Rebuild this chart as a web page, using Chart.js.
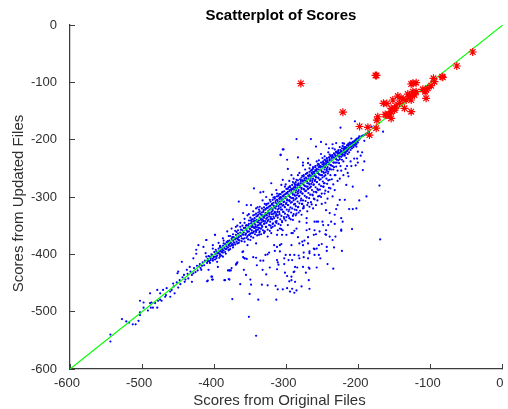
<!DOCTYPE html>
<html lang="en">
<head>
<meta charset="UTF-8">
<title>Scatterplot of Scores</title>
<style>
  html, body { margin: 0; padding: 0; background: #fff; }
  canvas { display: block; }
</style>
</head>
<body>
<canvas id="scoresChart" width="508" height="409"></canvas>
<script src="https://cdn.jsdelivr.net/npm/chart.js"></script>
<script>
const tickValues = [-600, -500, -400, -300, -200, -100, 0];
const titleText = 'Scatterplot of Scores';
const xLabel = 'Scores from Original Files';
const yLabel = 'Scores from Updated Files';

// y = x reference line
const refLine = [[-600, -600], [0, 0]];

// red stars
const redStars = [
  [-280,-102],[-176.5,-88],[-175,-88],[-221.7,-152],[-198.6,-177],[-187,-178.5],[-184.8,-192],[-175.5,-180],
  [-174.6,-166],[-173.3,-160],[-165.4,-136.6],[-160.8,-137],[-157,-157],[-154.8,-163],[-163,-156],[-150,-145],
  [-147.8,-141.3],[-152.4,-130.8],[-145.5,-123.9],[-138.6,-129.7],[-131.7,-120.4],[-136.3,-145.4],[-127,-151.2],
  [-127,-130.8],[-124.7,-120.4],[-120.1,-116.3],[-127,-102.9],[-120.1,-100.6],[-124.7,-101.8],[-110.9,-112.2],
  [-107.7,-116.3],[-106.3,-127.9],[-99.4,-105.8],[-96.1,-93],[-94.8,-98.9],[-84.1,-90.1],[-83.2,-91.3],
  [-63.8,-71.5],[-41.7,-47.1],[-143.2,-136.6],[-134,-130.8],[-129.4,-125],[-122.4,-122],[-106.3,-113.4],
  [-154.7,-151.2],[-161.6,-157],[-150,-148.3],[-154.7,-145.4],[-140.9,-127.9],[-124.7,-116.3],[-104,-110.5]
];

// blue dots: the far tail at lower left
const lowerTail = [
  [-544,-540],[-544,-552],[-528,-513],[-522,-517],[-518,-519],[-513,-522],[-509,-522],[-505,-516],[-503,-501],
  [-503,-506],[-503,-481],[-498,-484],[-498,-493],[-492,-498],[-489,-468],[-489,-485],[-488,-493],[-485,-493],
  [-487,-484],[-482,-485],[-479,-493],[-479,-462],[-478,-481],[-475,-468],[-475,-479],[-473,-481],[-471,-462],
  [-468,-474],[-467,-471],[-466,-459],[-461,-474],[-461,-465],[-459,-462],[-457,-451],[-455,-468],[-450,-458],
  [-451,-433],[-450,-430],[-448,-445],[-445,-413],[-441,-448],[-438,-427],[-436,-442],[-431,-448],[-434,-422],
  [-429,-407],[-429,-433],[-425,-392],[-425,-399],[-422,-384],[-421,-421],[-418,-427],[-415,-387],[-411,-375],
  [-409,-446],[-408,-427],[-411,-404],[-412,-398],[-404,-439],[-402,-444],[-402,-390],[-399,-366],[-397,-395],
  [-397,-407],[-395,-422],[-392,-387],[-385,-445],[-379,-444],[-379,-428],[-377,-428],[-456,-456],[-452,-449],
  [-447,-452],[-444,-440],[-442,-436],[-440,-444],[-437,-434],[-433,-430],[-431,-436],[-428,-424],[-426,-431],
  [-424,-420],[-423,-428],[-420,-417],[-419,-424],[-417,-420],[-416,-414],[-414,-419],[-413,-411],[-410,-415],
  [-409,-408],[-407,-412],[-406,-404],[-405,-410]
];

// blue dots: the wide spread below the diagonal
const belowBand = [
  [-342,-542],[-352,-509],[-375,-478],[-339,-479],[-314,-479],[-351,-469],[-364,-452],[-349,-453],[-334,-453],
  [-326,-454],[-315,-455],[-312,-461],[-305,-461],[-299,-459],[-292,-460],[-286,-463],[-289,-467],[-295,-465],
  [-279,-456],[-268,-460],[-288,-448],[-293,-445],[-296,-447],[-269,-445],[-299,-438],[-293,-439],[-302,-432],
  [-290,-431],[-289,-430],[-273,-432],[-328,-435],[-356,-436],[-350,-444],[-380,-443],[-386,-445],[-403,-439],
  [-403,-444],[-410,-447],[-359,-427],[-376,-424],[-379,-428],[-381,-428],[-333,-427],[-323,-423],[-313,-426],
  [-285,-423],[-277,-422],[-269,-423],[-268,-425],[-258,-423],[-243,-417],[-235,-425],[-223,-394],[-170,-374],
  [-209,-356],[-369,-416],[-368,-414],[-370,-418],[-358,-407],[-355,-408],[-346,-405],[-342,-406],[-341,-419],
  [-336,-411],[-332,-411],[-329,-401],[-326,-400],[-324,-397],[-313,-410],[-312,-414],[-311,-418],[-303,-407],
  [-303,-417],[-297,-410],[-292,-410],[-288,-422],[-283,-402],[-301,-401],[-295,-401],[-289,-401],[-282,-407],
  [-276,-405],[-270,-407],[-268,-398],[-261,-401],[-255,-401],[-253,-407],[-276,-397],[-268,-395],[-261,-391],
  [-258,-390],[-255,-384],[-251,-382],[-244,-394],[-244,-387],[-234,-388],[-316,-394],[-309,-395],[-313,-387],
  [-309,-384],[-307,-382],[-317,-384],[-293,-384],[-282,-381],[-277,-384],[-270,-381],[-262,-390],[-284,-370],
  [-278,-378],[-275,-376],[-270,-370],[-262,-366],[-259,-365],[-293,-363],[-289,-359],[-300,-366],[-305,-358],
  [-313,-366],[-306,-366],[-312,-358],[-307,-356],[-321,-363],[-323,-359],[-330,-360],[-337,-360],[-342,-358],
  [-335,-355],[-282,-343],[-272,-345],[-261,-343],[-258,-343],[-250,-343],[-242,-349],[-245,-358],[-246,-365],
  [-245,-366],[-233,-347],[-224,-359],[-236,-375],[-232,-369],[-240,-369],[-254,-360],[-272,-358],[-268,-356],
  [-261,-358],[-286,-355],[-291,-363],[-360,-395],[-354,-384],[-350,-375],[-342,-381],[-361,-396],[-360,-405],
  [-358,-407],[-369,-416],[-171,-280],[-189,-299],[-199,-306],[-208,-282],[-215,-258],[-210,-246],[-217,-279],
  [-219,-305],[-226,-305],[-229,-314],[-208,-321],[-213,-321],[-203,-320],[-231,-321],[-240,-328],[-233,-331],
  [-245,-323],[-259,-314],[-268,-317],[-277,-320],[-256,-343],[-249,-349],[-224,-337],[-222,-343],[-224,-357],
  [-296,-306],[-286,-323],[-279,-331],[-272,-337],[-291,-340],[-309,-355],[-298,-349],[-319,-352],[-238,-343],
  [-233,-288],[-236,-299],[-242,-291],[-249,-282],[-259,-291],[-252,-300],[-246,-310],[-262,-303],[-270,-310],
  [-278,-312],[-284,-318],[-290,-330],[-300,-335],[-306,-342],[-314,-345],[-322,-350],[-328,-352],[-336,-348],
  [-344,-354],[-352,-366],[-366,-375],[-374,-384],[-380,-392],[-388,-397],[-392,-403],[-348,-362],[-332,-342],
  [-320,-338],[-312,-332],[-304,-326],[-296,-322],[-288,-312],[-280,-306],[-272,-300],[-264,-296],[-256,-288],
  [-248,-276],[-240,-270],[-232,-262],[-224,-254],[-216,-246],[-192,-238],[-194,-253],
  [-338,-366],[-331,-363],[-326,-369],[-319,-347],[-315,-343],[-308,-349],[-303,-338],[-297,-333],[-294,-339],
  [-287,-332],[-283,-327],[-276,-316],[-271,-325],[-265,-313],[-263,-320],[-257,-306],[-254,-298],[-251,-312],
  [-247,-294],[-243,-303],[-239,-285],[-235,-278],[-229,-272],[-226,-268],[-221,-262],[-218,-251],[-214,-264],
  [-211,-238],[-206,-233],[-204,-245],[-201,-240],[-197,-228],[-195,-222]
];

// blue dots: the spread above the diagonal
const aboveBand = [
  [-286,-199],[-266,-199],[-259,-212],[-245,-208],[-236,-208],[-222,-206],[-231,-206],[-241,-215],[-308,-226],
  [-305,-217],[-299,-235],[-284,-231],[-277,-245],[-270,-233],[-258,-238],[-252,-225],[-263,-248],[-345,-285],
  [-366,-308],[-336,-292],[-332,-291],[-355,-314],[-349,-314],[-374,-339],[-399,-366],[-411,-375],[-360,-328],
  [-337,-317],[-321,-276],[-307,-279],[-305,-270],[-293,-262],[-205,-168],[-225,-179],[-166,-186],[-252,-204],
  [-304,-217],[-308,-227],[-270,-241],[-298,-251],[-277,-240],[-199,-194],[-192,-192],[-188,-177],[-182,-177],
  [-192,-202],[-203,-212],[-205,-204],[-201,-221],[-202,-233],[-215,-209],[-210,-198],[-217,-221],[-219,-215],
  [-222,-211],[-236,-215],[-231,-221],[-328,-300],[-320,-296],[-314,-288],[-310,-295],[-302,-282],[-296,-272],
  [-290,-268],[-284,-262],[-280,-270],[-274,-252],[-268,-250],[-262,-258],[-256,-242],[-250,-232],[-246,-236],
  [-240,-226],[-234,-224],[-228,-218],[-340,-318],[-346,-325],[-352,-330],[-358,-338],[-364,-345],[-370,-352],
  [-376,-355],[-382,-360],[-388,-372],[-394,-380],[-402,-384],[-316,-300],[-306,-292],[-298,-286],[-288,-278],
  [-276,-262],[-266,-254],[-254,-246],[-244,-232],[-330,-312],[-342,-320],[-354,-332],[-368,-350],[-380,-368],
  [-344,-331],[-338,-322],[-333,-306],[-327,-312],[-323,-305],[-318,-301],[-313,-294],[-309,-301],[-301,-278],
  [-295,-283],[-291,-274],[-286,-270],[-282,-258],[-278,-263],[-272,-259],[-267,-244],[-264,-252],[-260,-246],
  [-255,-236],[-249,-240],[-247,-229],[-242,-222],[-238,-228],[-233,-217],[-229,-222],[-226,-213],[-220,-207]
];

// blue dots: the dense band along the diagonal
const diagonalBand = [
  [-404,-400],[-402,-408],[-400,-396],[-399,-404],[-398,-392],[-396,-402],[-395,-398],[-394,-390],[-393,-399],[-392,-394],
  [-391,-388],[-390,-396],[-389,-391],[-388,-385],[-387,-393],[-386,-389],[-385,-382],[-384,-391],[-383,-386],[-382,-378],
  [-381,-388],[-380,-384],[-379,-376],[-378,-386],[-377,-380],[-376,-373],[-375,-382],[-374,-376],[-373,-370],[-372,-380],
  [-371,-374],[-370,-366],[-369,-378],[-368,-372],[-367,-364],[-366,-370],[-365,-376],[-364,-362],[-363,-368],[-362,-372],
  [-361,-358],[-360,-366],[-359,-362],[-358,-372],[-357,-354],[-356,-364],[-355,-358],[-354,-368],[-353,-350],[-352,-360],
  [-351,-355],[-350,-364],[-349,-346],[-348,-358],[-347,-352],[-346,-362],[-345,-342],[-344,-354],[-343,-348],[-342,-358],
  [-341,-340],[-340,-350],[-339,-344],[-338,-354],[-337,-336],[-336,-346],[-335,-340],[-334,-350],[-333,-332],[-332,-342],
  [-331,-336],[-330,-346],[-329,-328],[-328,-338],[-327,-332],[-326,-342],[-325,-324],[-324,-334],[-323,-328],[-322,-338],
  [-321,-320],[-320,-330],[-319,-324],[-318,-334],[-317,-316],[-316,-326],[-315,-320],[-314,-330],[-313,-312],[-312,-322],
  [-311,-316],[-310,-326],[-309,-308],[-308,-318],[-307,-312],[-306,-322],[-305,-304],[-304,-314],[-303,-308],[-302,-318],
  [-301,-300],[-300,-310],[-299,-304],[-298,-314],[-297,-296],[-296,-306],[-295,-300],[-294,-310],[-293,-292],[-292,-302],
  [-291,-296],[-290,-306],[-289,-288],[-288,-298],[-287,-292],[-286,-302],[-285,-284],[-284,-294],[-283,-288],[-282,-298],
  [-281,-280],[-280,-290],[-279,-284],[-278,-294],[-277,-276],[-276,-286],[-275,-280],[-274,-290],[-273,-272],[-272,-282],
  [-271,-276],[-270,-286],[-269,-268],[-268,-278],[-267,-272],[-266,-282],[-265,-264],[-264,-274],[-263,-268],[-262,-278],
  [-261,-260],[-260,-270],[-259,-264],[-258,-274],[-257,-256],[-256,-266],[-255,-260],[-254,-270],[-253,-252],[-252,-262],
  [-251,-256],[-250,-266],[-249,-248],[-248,-258],[-247,-252],[-246,-262],[-245,-244],[-244,-254],[-243,-248],[-242,-256],
  [-241,-240],[-240,-250],[-239,-244],[-238,-252],[-237,-236],[-236,-246],[-235,-240],[-234,-248],[-233,-232],[-232,-240],
  [-231,-234],[-230,-240],[-229,-228],[-228,-236],[-227,-230],[-226,-234],[-225,-224],[-224,-230],[-223,-226],[-222,-228],
  [-221,-220],[-220,-226],[-219,-222],[-218,-224],[-217,-216],[-216,-220],[-215,-218],[-214,-216],[-213,-212],[-212,-214],
  [-211,-208],[-210,-212],[-209,-206],[-208,-210],[-207,-204],[-206,-208],[-205,-202],[-204,-206],[-203,-200],[-202,-203],
  [-200,-197],[-198,-198],[-196,-194],[-194,-193],[-190,-190],[-186,-186]
];

// more of the dense band, less regular
const bandFill = [
  [-409,-412],[-408,-403],[-406,-415],[-405,-407],[-403,-401],[-402,-411],[-401,-405],[-399,-409],[-398,-399],[-397,-404],
  [-396,-413],[-394,-397],[-393,-406],[-392,-400],[-390,-402],[-389,-394],[-388,-404],[-387,-381],[-385,-396],[-384,-399],
  [-383,-390],[-381,-377],[-380,-393],[-379,-382],[-378,-391],[-376,-384],[-375,-370],[-374,-388],[-373,-379],[-371,-383],
  [-370,-372],[-369,-361],[-368,-381],[-367,-374],[-366,-380],[-364,-368],[-363,-357],[-362,-377],[-361,-365],[-360,-373],
  [-359,-354],[-358,-378],[-357,-366],[-356,-350],[-355,-371],[-354,-361],[-353,-374],[-352,-347],[-351,-366],[-350,-356],
  [-349.5,-341],[-349,-369],[-348.5,-352],[-348,-343],[-347.5,-363],[-347,-349],[-346.5,-339],[-346,-371],[-345.5,-353],[-345,-360],
  [-344.5,-346],[-344,-337],[-343.5,-365],[-343,-351],[-342.5,-342],[-342,-361],[-341.5,-334],[-341,-353],[-340.5,-367],[-340,-344],
  [-339.5,-357],[-339,-331],[-338.5,-349],[-338,-341],[-337.5,-362],[-337,-346],[-336.5,-329],[-336,-355],[-335.5,-338],[-335,-365],
  [-334.5,-344],[-334,-327],[-333.5,-352],[-333,-339],[-332.5,-358],[-332,-335],[-331.5,-323],[-331,-347],[-330.5,-361],[-330,-333],
  [-329.5,-342],[-329,-321],[-328.5,-352],[-328,-331],[-327.5,-345],[-327,-319],[-326.5,-336],[-326,-357],[-325.5,-328],[-325,-340],
  [-324.5,-317],[-324,-349],[-323.5,-331],[-323,-322],[-322.5,-343],[-322,-315],[-321.5,-335],[-321,-354],[-320.5,-326],[-320,-312],
  [-319.5,-339],[-319,-321],[-318.5,-346],[-318,-310],[-317.5,-329],[-317,-337],[-316.5,-318],[-316,-350],[-315.5,-327],[-315,-307],
  [-314.5,-333],[-314,-316],[-313.5,-342],[-313,-305],[-312.5,-326],[-312,-336],[-311.5,-311],[-311,-347],[-310.5,-320],[-310,-303],
  [-309.5,-330],[-309,-313],[-308.5,-339],[-308,-300],[-307.5,-322],[-307,-333],[-306.5,-306],[-306,-344],[-305.5,-315],[-305,-298],
  [-304.5,-326],[-304,-309],[-303.5,-335],[-303,-296],[-302.5,-317],[-302,-329],[-301.5,-302],[-301,-341],[-300.5,-312],[-300,-293],
  [-299.5,-322],[-299,-306],[-298.5,-331],[-298,-291],[-297.5,-314],[-297,-325],[-296.5,-298],[-296,-337],[-295.5,-307],[-295,-288],
  [-294.5,-318],[-294,-301],[-293.5,-327],[-293,-286],[-292.5,-309],[-292,-320],[-291.5,-293],[-291,-333],[-290.5,-302],[-290,-283],
  [-289.5,-313],[-289,-296],[-288.5,-322],[-288,-281],[-287.5,-304],[-287,-316],[-286.5,-288],[-286,-329],[-285.5,-297],[-285,-278],
  [-284.5,-308],[-284,-291],[-283.5,-317],[-283,-276],[-282.5,-299],[-282,-311],[-281.5,-283],[-281,-324],[-280.5,-292],[-280,-273],
  [-279.5,-303],[-279,-286],[-278.5,-312],[-278,-271],[-277.5,-294],[-277,-306],[-276.5,-278],[-276,-319],[-275.5,-287],[-275,-268],
  [-274.5,-298],[-274,-281],[-273.5,-307],[-273,-266],[-272.5,-289],[-272,-301],[-271.5,-273],[-271,-314],[-270.5,-282],[-270,-263],
  [-269.5,-293],[-269,-276],[-268.5,-302],[-268,-261],[-267.5,-284],[-267,-296],[-266.5,-268],[-266,-309],[-265.5,-277],[-265,-258],
  [-264.5,-288],[-264,-271],[-263.5,-297],[-263,-256],[-262.5,-279],[-262,-291],[-261.5,-263],[-261,-304],[-260.5,-272],[-260,-253],
  [-259.5,-283],[-259,-266],[-258.5,-292],[-258,-251],[-257.5,-274],[-257,-286],[-256.5,-258],[-256,-299],[-255.5,-267],[-255,-248],
  [-254.5,-278],[-254,-261],[-253.5,-287],[-253,-246],[-252.5,-269],[-252,-281],[-251.5,-253],[-251,-294],[-250.5,-262],[-250,-243],
  [-249.5,-273],[-249,-256],[-248.5,-282],[-248,-241],[-247.5,-264],[-247,-276],[-246.5,-248],[-246,-289],[-245.5,-257],[-245,-238],
  [-244.5,-268],[-244,-251],[-243.5,-277],[-243,-236],[-242.5,-259],[-242,-271],[-241.5,-243],[-241,-284],[-240.5,-252],[-240,-234],
  [-239,-262],[-238,-245],[-237,-269],[-236,-230],[-235,-252],[-234,-240],[-233,-262],[-232,-228],[-231,-247],[-230,-235],
  [-229,-254],[-228,-224],[-227,-241],[-226,-229],[-225,-246],[-224,-221],[-223,-235],[-222,-223],[-221,-238],[-220,-217],
  [-219,-228],[-218,-216],[-217,-232],[-216,-214],[-215,-225],[-214,-210],[-213,-222],[-212,-208],[-211,-218],[-210,-206],
  [-209,-215],[-208,-204],[-207,-213],[-206,-203],[-205,-210],[-204,-200],[-203,-208],[-202,-198],[-201,-205],[-200,-201]
];

// upper edge of the band, just above the line
const bandUpper = [
  [-392,-385],[-387,-376],[-383,-379],[-378,-368],[-374,-365],[-371,-359],[-367,-358],[-364,-352],[-361,-350],[-358,-345],
  [-355,-349],[-352,-341],[-350,-336],[-348,-339],[-346,-332],[-344,-341],[-342,-329],[-340,-333],[-339,-327],[-337,-325],
  [-335,-331],[-334,-320],[-332,-326],[-331,-318],[-329,-322],[-328,-314],[-326,-319],[-325,-311],[-323,-316],[-322,-308],
  [-320,-313],[-319,-305],[-318,-315],[-316,-303],[-315,-310],[-313,-299],[-312,-307],[-311,-298],[-309,-303],[-308,-295],
  [-307,-301],[-305,-291],[-304,-299],[-303,-290],[-301,-295],[-300,-286],[-299,-293],[-297,-283],[-296,-290],[-295,-281],
  [-293,-288],[-292,-279],[-291,-286],[-289,-276],[-288,-284],[-287,-274],[-285,-280],[-284,-271],[-283,-279],[-281,-269],
  [-280,-276],[-279,-266],[-277,-272],[-276,-264],[-275,-271],[-273,-260],[-272,-268],[-271,-258],[-269,-264],[-268,-256],
  [-267,-263],[-265,-253],[-264,-260],[-263,-250],[-261,-256],[-260,-248],[-259,-254],[-257,-245],[-256,-252],[-255,-243],
  [-253,-248],[-252,-240],[-251,-247],[-249,-238],[-248,-244],[-247,-235],[-245,-241],[-244,-233],[-243,-239],[-241,-231],
  [-240,-236],[-239,-229],[-237,-232],[-236,-227],[-235,-231],[-233,-225],[-232,-228],[-231,-222],[-229,-224],[-228,-220],
  [-227,-223],[-225,-218],[-224,-220],[-223,-215],[-221,-216],[-220,-213],[-218,-213],[-216,-210],[-214,-207],[-212,-205]
];

const asPoints = pts => pts.map(p => ({ x: p[0], y: p[1] }));

// the axis titles sit a little off the centre of their axes in the original
const shiftAxisTitle = (chart, scale, dx, dy) => {
  if (scale.shifted) return;
  scale.shifted = true;
  const draw = scale.drawTitle.bind(scale);
  scale.drawTitle = () => {
    chart.ctx.save();
    chart.ctx.translate(dx, dy);
    draw();
    chart.ctx.restore();
  };
};

const nudgeTitles = {
  id: 'nudgeTitles',
  afterLayout(chart) {
    chart.titleBlock.right = chart.titleBlock.right - 11;
    shiftAxisTitle(chart, chart.scales.x, -7, 1);
    shiftAxisTitle(chart, chart.scales.y, 10, 6.5);
  }
};

new Chart(document.getElementById('scoresChart').getContext('2d'), {
  type: 'scatter',
  plugins: [nudgeTitles],
  data: {
    datasets: [
      {
        label: 'Updated',
        data: asPoints(redStars),
        pointStyle: 'star',
        pointRadius: 4,
        borderColor: '#ff0000',
        backgroundColor: '#ff0000',
        borderWidth: 1.2
      },
      {
        label: 'y = x',
        type: 'line',
        data: asPoints(refLine),
        borderColor: '#00ff00',
        borderWidth: 1.2,
        pointRadius: 0
      },
      {
        label: 'Scores',
        data: asPoints(lowerTail.concat(belowBand, aboveBand, diagonalBand, bandFill, bandUpper)),
        pointStyle: 'circle',
        pointRadius: 1.1,
        borderWidth: 0,
        backgroundColor: '#0000ff'
      }
    ]
  },
  options: {
    responsive: false,
    animation: false,
    layout: { padding: { left: 0, right: 4, top: 0, bottom: 0 } },
    plugins: {
      legend: { display: false },
      tooltip: { enabled: false },
      title: {
        display: true,
        text: titleText,
        color: '#000',
        fullSize: false,
        font: { family: '"Liberation Sans", sans-serif', size: 15, weight: 'bold' },
        padding: { top: 7, bottom: 0 }
      }
    },
    scales: {
      x: {
        type: 'linear',
        min: -600,
        max: 0,
        afterFit: s => { s.height = 40; s.paddingLeft = 0; s.paddingRight = 0; },
        afterBuildTicks: s => { s.ticks = tickValues.map(v => ({ value: v })); },
        border: { color: '#3c3c3c', width: 1.25 },
        grid: { drawOnChartArea: false, tickLength: -5, tickColor: '#3c3c3c' },
        ticks: { color: '#303030', padding: 12, maxRotation: 0, labelOffset: -3, font: { family: '"Liberation Sans", sans-serif', size: 13 } },
        title: {
          display: true,
          text: xLabel,
          color: '#303030',
          padding: 0,
          font: { family: '"Liberation Sans", sans-serif', size: 15 }
        }
      },
      y: {
        type: 'linear',
        min: -600,
        max: 0,
        afterFit: s => { s.width = 70; s.paddingTop = 0; s.paddingBottom = 0; },
        afterBuildTicks: s => { s.ticks = tickValues.map(v => ({ value: v })); },
        border: { color: '#3c3c3c', width: 1.25 },
        grid: { drawOnChartArea: false, tickLength: -5, tickColor: '#3c3c3c' },
        ticks: { color: '#303030', padding: 18, font: { family: '"Liberation Sans", sans-serif', size: 13 } },
        title: {
          display: true,
          text: yLabel,
          color: '#303030',
          padding: 0,
          font: { family: '"Liberation Sans", sans-serif', size: 15 }
        }
      }
    }
  }
});
</script>
</body>
</html>
